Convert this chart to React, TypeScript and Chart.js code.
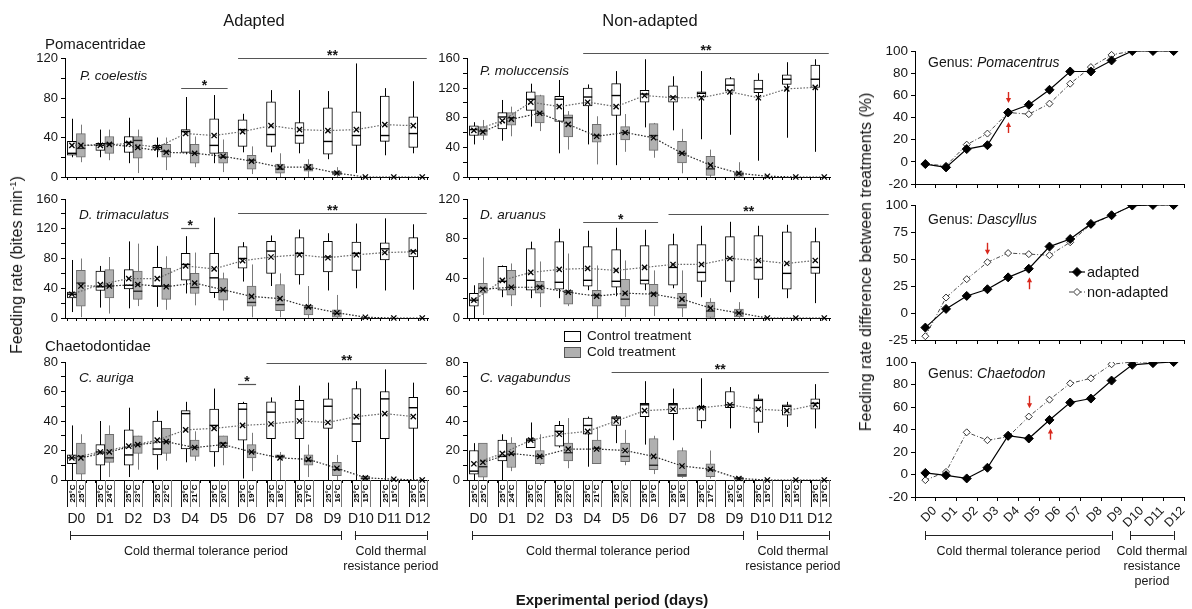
import React, { useEffect, useRef } from 'react';
import { Chart, registerables } from 'chart.js';

Chart.register(...registerables);

const W = 1192;
const H = 609;
const FONT = "'Liberation Sans', Arial, Helvetica, sans-serif";
const INK = '#161616';
const RED = '#d8281c';

Chart.defaults.font.family = FONT;
Chart.defaults.color = INK;

// ---------- categories ----------
const days = ['D0', 'D1', 'D2', 'D3', 'D4', 'D5', 'D6', 'D7', 'D8', 'D9', 'D10', 'D11', 'D12'];
const controlTemps = ['25°C', '25°C', '25°C', '25°C', '25°C', '25°C', '25°C', '25°C', '25°C', '25°C', '25°C', '25°C', '25°C'];
const coldTemps = ['25°C', '24°C', '23°C', '22°C', '21°C', '20°C', '19°C', '18°C', '17°C', '16°C', '15°C', '15°C', '15°C'];

// ---------- P. coelestis (adapted) ----------
const pcoCtrlMin = [20, 20, 14, 20, 23, 14, 25, 25, 24, 18, 4, 22, 24];
const pcoCtrlQ1 = [22, 27, 25, 28, 25, 24, 31, 31, 34, 23, 32, 36, 30];
const pcoCtrlMed = [24, 32, 35, 30, 46, 32, 48, 43, 42, 36, 42, 42, 44];
const pcoCtrlQ3 = [36, 34, 41, 32, 48, 59, 58, 76, 55, 70, 66, 82, 61];
const pcoCtrlMax = [59, 48, 60, 40, 81, 83, 64, 88, 88, 87, 115, 90, 97];
const pcoCtrlMean = [32, 32, 34, 30, 44, 42, 46, 52, 48, 47, 48, 53, 52];
const pcoColdMin = [15, 17, 4, 7, 10, 5, 3, 0, 0, 0, 0, 0, 0];
const pcoColdQ1 = [20, 24, 19, 20, 14, 14, 8, 4, 6, 2, 0, 0, 0];
const pcoColdMed = [29, 34, 37, 26, 24, 20, 17, 8, 8, 4, 0, 0, 0];
const pcoColdQ3 = [44, 41, 41, 33, 33, 25, 22, 13, 13, 6, 0, 0, 0];
const pcoColdMax = [53, 48, 48, 40, 41, 38, 31, 24, 18, 10, 0, 0, 0];
const pcoColdMean = [32, 33, 30, 25, 24, 21, 16, 10, 10, 4, 0, 0, 0];

// ---------- D. trimaculatus (adapted) ----------
const dtrCtrlMin = [8, 14, 13, 15, 33, 27, 49, 43, 45, 37, 40, 37, 38];
const dtrCtrlQ1 = [27, 37, 39, 42, 51, 34, 67, 60, 58, 62, 64, 78, 82];
const dtrCtrlMed = [32, 42, 44, 43, 72, 54, 80, 90, 87, 82, 87, 93, 90];
const dtrCtrlQ3 = [35, 63, 65, 68, 87, 87, 96, 103, 108, 103, 102, 101, 108];
const dtrCtrlMax = [78, 70, 103, 97, 110, 135, 102, 111, 119, 114, 127, 134, 126];
const dtrCtrlMean = [32, 45, 53, 53, 70, 66, 77, 82, 85, 81, 85, 88, 89];
const dtrColdMin = [1, 6, 16, 11, 17, 10, 1, 1, 0, 0, 0, 0, 0];
const dtrColdQ1 = [16, 27, 25, 25, 33, 24, 16, 10, 4, 1, 0, 0, 0];
const dtrColdMed = [47, 43, 36, 43, 41, 37, 21, 18, 14, 6, 0, 0, 0];
const dtrColdQ3 = [64, 65, 63, 67, 60, 53, 43, 45, 17, 11, 1, 0, 0];
const dtrColdMax = [80, 82, 100, 83, 88, 61, 72, 60, 43, 31, 2, 0, 0];
const dtrColdMean = [43, 43, 45, 42, 47, 38, 29, 26, 15, 7, 1, 0, 0];

// ---------- C. auriga (adapted) ----------
const cauCtrlMin = [0, 0, 2, 7, 12, 9, 1, 0, 0, 0, 0, 0, 0];
const cauCtrlQ1 = [11, 10, 10, 17, 21, 19, 27, 28, 28, 35, 26, 28, 35];
const cauCtrlMed = [15, 19, 17, 21, 45, 37, 48, 46, 48, 50, 38, 55, 49];
const cauCtrlQ3 = [17, 24, 34, 40, 47, 48, 52, 53, 54, 55, 62, 60, 56];
const cauCtrlMax = [37, 40, 49, 47, 53, 62, 53, 56, 64, 66, 67, 75, 66];
const cauCtrlMean = [15, 19, 23, 27, 34, 35, 37, 38, 40, 39, 43, 45, 43];
const cauColdMin = [0, 2, 7, 13, 13, 10, 6, 0, 2, 0, 0, 0, 0];
const cauColdQ1 = [4, 12, 18, 18, 16, 22, 15, 15, 10, 3, 0.5, 0, 0];
const cauColdMed = [16, 15, 24, 26, 22, 25, 19, 16, 13, 7, 1, 0, 0];
const cauColdQ3 = [25, 31, 30, 35, 27, 30, 24, 17, 17, 12, 2.5, 0, 0];
const cauColdMax = [31, 37, 30, 35, 33, 30, 32, 19, 24, 17, 3, 1, 0];
const cauColdMean = [15, 19, 24, 26, 22, 24, 19, 15, 14, 8, 1.5, 0.5, 0];

// ---------- P. moluccensis (non-adapted) ----------
const pmoCtrlMin = [44, 49, 68, 32, 44, 16, 67, 63, 51, 57, 22, 53, 34];
const pmoCtrlQ1 = [56, 65, 90, 75, 96, 83, 101, 101, 108, 116, 114, 125, 121];
const pmoCtrlMed = [64, 81, 105, 105, 108, 110, 112, 108, 113, 124, 119, 132, 132];
const pmoCtrlQ3 = [69, 87, 115, 109, 120, 126, 117, 123, 115, 133, 131, 138, 151];
const pmoCtrlMax = [74, 104, 126, 131, 125, 143, 159, 136, 143, 135, 140, 155, 159];
const pmoCtrlMean = [63, 76, 101, 95, 101, 95, 110, 107, 107, 115, 107, 119, 121];
const pmoColdMin = [50, 55, 62, 37, 17, 34, 26, 5, 0, 0, 0, 0, 0];
const pmoColdQ1 = [56, 70, 73, 54, 47, 50, 36, 19, 2, 0, 0, 0, 0];
const pmoColdMed = [62, 80, 86, 80, 56, 60, 56, 32, 11, 4, 0, 0, 0];
const pmoColdQ3 = [68, 87, 110, 84, 71, 68, 72, 48, 28, 7, 0, 0, 0];
const pmoColdMax = [77, 95, 111, 89, 82, 85, 73, 65, 37, 20, 2, 0, 0];
const pmoColdMean = [61, 78, 86, 71, 55, 60, 53, 32, 16, 5, 1, 0, 0];

// ---------- D. aruanus (non-adapted) ----------
const darCtrlMin = [0, 21, 20, 20, 28, 22, 28, 30, 21, 26, 20, 20, 15];
const darCtrlQ1 = [12, 28, 28, 29, 32, 31, 34, 33, 37, 37, 39, 29, 45];
const darCtrlMed = [18, 37, 38, 36, 38, 37, 38, 51, 46, 60, 51, 45, 51];
const darCtrlQ3 = [25, 52, 70, 77, 72, 69, 73, 74, 74, 82, 83, 87, 77];
const darCtrlMax = [33, 53, 77, 90, 88, 91, 89, 85, 93, 97, 93, 94, 91];
const darCtrlMean = [18, 38, 46, 49, 50, 48, 51, 54, 54, 60, 58, 55, 58];
const darColdMin = [3, 12, 11, 12, 0, 1, 2, 1, 0, 0, 0, 0, 0];
const darColdQ1 = [25, 23, 25, 14, 12, 12, 12, 10, 0, 1, 0, 0, 0];
const darColdMed = [30, 31, 32, 26, 23, 19, 25, 13, 7, 5, 0, 0, 0];
const darColdQ3 = [35, 48, 37, 28, 28, 39, 34, 25, 16, 9, 0, 0, 0];
const darColdMax = [61, 55, 57, 65, 53, 58, 48, 48, 20, 16, 0, 0, 0];
const darColdMean = [29, 31, 31, 26, 22, 25, 24, 19, 10, 5, 0, 0, 0];

// ---------- C. vagabundus (non-adapted) ----------
const cvaCtrlMin = [0, 0, 22, 22, 9, 25, 24, 27, 35, 35, 32, 36, 35];
const cvaCtrlQ1 = [4, 13, 22, 23, 31, 37, 43, 45, 40, 49, 39, 44, 48];
const cvaCtrlMed = [6, 16, 27, 33, 37, 42, 51, 51, 49, 51, 54, 50, 52];
const cvaCtrlQ3 = [20, 27, 28, 37, 42, 43, 52, 52, 50, 60, 55, 51, 55];
const cvaCtrlMax = [25, 31, 39, 40, 43, 44, 67, 62, 69, 63, 58, 53, 65];
const cvaCtrlMean = [11, 18, 27, 31, 33, 40, 47, 48, 49, 51, 48, 47, 51];
const cvaColdMin = [0, 6, 10, 8, 11, 10, 4, 1.5, 1, 0, 0, 0, 0];
const cvaColdQ1 = [2, 8.5, 11, 13, 11, 12.5, 7, 2.3, 2.3, 0, 0, 0, 0];
const cvaColdMed = [9, 17.5, 16, 18.5, 21.5, 16, 10, 3.4, 6.8, 1, 0, 0, 0];
const cvaColdQ3 = [25, 25, 20, 25, 27, 25, 28, 20, 11, 1.8, 0, 0, 0];
const cvaColdMax = [25, 29, 31, 42, 36, 34, 30, 22, 20, 2.3, 0, 0, 0];
const cvaColdMean = [12, 18, 16, 21, 21, 20, 16, 9.5, 7.3, 1, 0, 0, 0];

// ---------- significance bars (day indices, value level) ----------
const pcoSig = [{ from: 4, to: 5, at: 90, label: '*' }, { from: 6, to: 12, at: 121, label: '**' }];
const dtrSig = [{ from: 4, to: 4, at: 121, label: '*' }, { from: 6, to: 12, at: 141, label: '**' }];
const cauSig = [{ from: 6, to: 6, at: 65, label: '*' }, { from: 7, to: 12, at: 79.5, label: '**' }];
const pmoSig = [{ from: 4, to: 12, at: 168, label: '**' }];
const darSig = [{ from: 4, to: 6, at: 97, label: '*' }, { from: 7, to: 12, at: 105, label: '**' }];
const cvaSig = [{ from: 5, to: 12, at: 73, label: '**' }];

// ---------- right panels: feeding-rate difference (%) ----------
const pomAdapted = [-2, -5, 11.5, 15, 44.5, 51.5, 65, 81.5, 81.5, 91.5, 100, 100, 100];
const pomNonAdapted = [-2, -3.5, 15.5, 25.5, 44.5, 43, 52.5, 70.5, 85.5, 96.5, 100, 100, 100];
const dasAdapted = [-13.5, 3.8, 15.8, 22, 33, 41, 61.5, 68.5, 82.5, 90.5, 99.5, 100, 100];
const dasNonAdapted = [-21.5, 14.3, 31.3, 47, 55.5, 54.5, 53.5, 65.5, 82, 90.5, 99.5, 100, 100];
const chaAdapted = [1.4, -0.7, -3.5, 6, 34.5, 32, 48.5, 64, 67.5, 83.5, 97.5, 99, 100];
const chaNonAdapted = [-5, 2.3, 37.5, 30.5, 33.5, 51.5, 66.5, 81, 85.5, 98, 100, 100, 100];

// red arrows (day index, value from -> to)
const pomArrows = [{ day: 4, from: 63, to: 53 }, { day: 4, from: 26, to: 36 }];
const dasArrows = [{ day: 3, from: 65, to: 54 }, { day: 5, from: 22, to: 33 }];
const chaArrows = [{ day: 5, from: 70, to: 59 }, { day: 6, from: 31, to: 41 }];

const boxPeriods = [
  { lines: ['Cold thermal tolerance period'], from: 0, to: 9 },
  { lines: ['Cold thermal', 'resistance period'], from: 10, to: 12 },
];
const linePeriods = [
  { lines: ['Cold thermal tolerance period'], from: 0, to: 9 },
  { lines: ['Cold thermal', 'resistance', 'period'], from: 10, to: 12 },
];

// ---------- types ----------
type Stats = { min: number[]; q1: number[]; med: number[]; q3: number[]; max: number[]; mean: number[] };
type Area = { left: number; right: number; top: number; bottom: number };
type BoxPanel = {
  ctrl: Stats; cold: Stats; yMax: number; minor: number; major: number; area: Area;
  sig: { from: number; to: number; at: number; label: string }[]; bottom: boolean;
};

const YW = 44;

const boxPanels: BoxPanel[] = [
  {
    ctrl: { min: pcoCtrlMin, q1: pcoCtrlQ1, med: pcoCtrlMed, q3: pcoCtrlQ3, max: pcoCtrlMax, mean: pcoCtrlMean },
    cold: { min: pcoColdMin, q1: pcoColdQ1, med: pcoColdMed, q3: pcoColdQ3, max: pcoColdMax, mean: pcoColdMean },
    yMax: 120, minor: 20, major: 40, area: { left: 65, right: 428, top: 58.5, bottom: 177 }, sig: pcoSig, bottom: false,
  },
  {
    ctrl: { min: dtrCtrlMin, q1: dtrCtrlQ1, med: dtrCtrlMed, q3: dtrCtrlQ3, max: dtrCtrlMax, mean: dtrCtrlMean },
    cold: { min: dtrColdMin, q1: dtrColdQ1, med: dtrColdMed, q3: dtrColdQ3, max: dtrColdMax, mean: dtrColdMean },
    yMax: 160, minor: 20, major: 40, area: { left: 65, right: 428, top: 199, bottom: 318 }, sig: dtrSig, bottom: false,
  },
  {
    ctrl: { min: cauCtrlMin, q1: cauCtrlQ1, med: cauCtrlMed, q3: cauCtrlQ3, max: cauCtrlMax, mean: cauCtrlMean },
    cold: { min: cauColdMin, q1: cauColdQ1, med: cauColdMed, q3: cauColdQ3, max: cauColdMax, mean: cauColdMean },
    yMax: 80, minor: 10, major: 20, area: { left: 65, right: 428, top: 362, bottom: 480 }, sig: cauSig, bottom: true,
  },
  {
    ctrl: { min: pmoCtrlMin, q1: pmoCtrlQ1, med: pmoCtrlMed, q3: pmoCtrlQ3, max: pmoCtrlMax, mean: pmoCtrlMean },
    cold: { min: pmoColdMin, q1: pmoColdQ1, med: pmoColdMed, q3: pmoColdQ3, max: pmoColdMax, mean: pmoColdMean },
    yMax: 160, minor: 20, major: 40, area: { left: 467, right: 830, top: 58.5, bottom: 177 }, sig: pmoSig, bottom: false,
  },
  {
    ctrl: { min: darCtrlMin, q1: darCtrlQ1, med: darCtrlMed, q3: darCtrlQ3, max: darCtrlMax, mean: darCtrlMean },
    cold: { min: darColdMin, q1: darColdQ1, med: darColdMed, q3: darColdQ3, max: darColdMax, mean: darColdMean },
    yMax: 120, minor: 20, major: 40, area: { left: 467, right: 830, top: 199, bottom: 318 }, sig: darSig, bottom: false,
  },
  {
    ctrl: { min: cvaCtrlMin, q1: cvaCtrlQ1, med: cvaCtrlMed, q3: cvaCtrlQ3, max: cvaCtrlMax, mean: cvaCtrlMean },
    cold: { min: cvaColdMin, q1: cvaColdQ1, med: cvaColdMed, q3: cvaColdQ3, max: cvaColdMax, mean: cvaColdMean },
    yMax: 80, minor: 10, major: 20, area: { left: 467, right: 830, top: 362, bottom: 480 }, sig: cvaSig, bottom: true,
  },
];

type LinePanel = {
  adapted: number[]; non: number[]; yMin: number; yMax: number; step: number; area: Area;
  arrows: { day: number; from: number; to: number }[]; legend: boolean; bottom: boolean;
};

const linePanels: LinePanel[] = [
  { adapted: pomAdapted, non: pomNonAdapted, yMin: -20, yMax: 100, step: 20, area: { left: 915, right: 1184, top: 51, bottom: 184 }, arrows: pomArrows, legend: false, bottom: false },
  { adapted: dasAdapted, non: dasNonAdapted, yMin: -25, yMax: 100, step: 25, area: { left: 915, right: 1184, top: 205, bottom: 340 }, arrows: dasArrows, legend: true, bottom: false },
  { adapted: chaAdapted, non: chaNonAdapted, yMin: -20, yMax: 100, step: 20, area: { left: 915, right: 1184, top: 362, bottom: 497 }, arrows: chaArrows, legend: false, bottom: true },
];

// ---------- helpers ----------
function drawBracket(ctx: CanvasRenderingContext2D, x1: number, x2: number, y: number, lines: string[], lineGap: number, firstOffset: number) {
  ctx.strokeStyle = '#222';
  ctx.lineWidth = 1;
  ctx.beginPath();
  ctx.moveTo(x1, y + 0.5);
  ctx.lineTo(x2, y + 0.5);
  ctx.moveTo(Math.round(x1) + 0.5, y - 4);
  ctx.lineTo(Math.round(x1) + 0.5, y + 5);
  ctx.moveTo(Math.round(x2) + 0.5, y - 4);
  ctx.lineTo(Math.round(x2) + 0.5, y + 5);
  ctx.stroke();
  ctx.fillStyle = INK;
  ctx.font = `12.5px ${FONT}`;
  ctx.textAlign = 'center';
  ctx.textBaseline = 'middle';
  lines.forEach((t, k) => ctx.fillText(t, (x1 + x2) / 2, y + firstOffset + k * lineGap));
}

function makeBoxPlugin(panel: BoxPanel) {
  const HALF = 4.5;
  const sets = [panel.ctrl, panel.cold];
  const barX = (chart: any, di: number, i: number) => {
    const el = chart.getDatasetMeta(di).data[i];
    if (el && Number.isFinite(el.x)) return el.x;
    return chart.scales.x.getPixelForValue(i) + (di === 0 ? -HALF : HALF);
  };
  return {
    id: 'boxExtras',
    beforeDatasetsDraw(chart: any) {
      const ctx = chart.ctx;
      const ys = chart.scales.y;
      ctx.save();
      sets.forEach((st, di) => {
        ctx.strokeStyle = di === 0 ? '#000' : '#7a7a7a';
        ctx.lineWidth = 1;
        st.min.forEach((mn, i) => {
          const mx = st.max[i];
          if (mx <= mn) return;
          const x = Math.round(barX(chart, di, i)) + 0.5;
          ctx.beginPath();
          ctx.moveTo(x, ys.getPixelForValue(mn));
          ctx.lineTo(x, ys.getPixelForValue(mx));
          ctx.stroke();
        });
      });
      ctx.restore();
    },
    afterDatasetsDraw(chart: any) {
      const ctx = chart.ctx;
      const xs = chart.scales.x;
      const ys = chart.scales.y;
      const ca = chart.chartArea;
      ctx.save();
      // medians
      sets.forEach((st, di) => {
        ctx.strokeStyle = di === 0 ? '#000' : '#262626';
        ctx.lineWidth = 1.4;
        st.med.forEach((m, i) => {
          if (st.q3[i] <= st.q1[i]) return;
          const x = barX(chart, di, i);
          const y = ys.getPixelForValue(m);
          ctx.beginPath();
          ctx.moveTo(x - HALF, y);
          ctx.lineTo(x + HALF, y);
          ctx.stroke();
        });
      });
      // mean lines (dotted)
      sets.forEach((st, di) => {
        ctx.setLineDash([1.6, 1.6]);
        ctx.lineWidth = 1.2;
        ctx.strokeStyle = di === 0 ? '#6b6b6b' : '#2c2c2c';
        ctx.beginPath();
        st.mean.forEach((m, i) => {
          const x = barX(chart, di, i);
          const y = ys.getPixelForValue(m);
          if (i === 0) ctx.moveTo(x, y);
          else ctx.lineTo(x, y);
        });
        ctx.stroke();
      });
      ctx.setLineDash([]);
      // mean markers (x)
      ctx.strokeStyle = '#000';
      ctx.lineWidth = 1.3;
      sets.forEach((st, di) => {
        st.mean.forEach((m, i) => {
          const x = barX(chart, di, i);
          const y = ys.getPixelForValue(m);
          const s = 2.6;
          ctx.beginPath();
          ctx.moveTo(x - s, y - s);
          ctx.lineTo(x + s, y + s);
          ctx.moveTo(x + s, y - s);
          ctx.lineTo(x - s, y + s);
          ctx.stroke();
        });
      });
      // minor ticks on the day axis
      ctx.strokeStyle = '#000';
      ctx.lineWidth = 1;
      for (let k = -1; k <= 38; k++) {
        const v = k / 3;
        if (v < xs.min || v > xs.max) continue;
        const px = Math.round(xs.getPixelForValue(v)) + 0.5;
        ctx.beginPath();
        ctx.moveTo(px, ca.bottom);
        ctx.lineTo(px, ca.bottom + 3);
        ctx.stroke();
      }
      // significance bars
      panel.sig.forEach((s) => {
        const x1 = barX(chart, 0, s.from) - HALF;
        const x2 = barX(chart, 1, s.to) + HALF;
        const y = Math.round(ys.getPixelForValue(s.at)) + 0.5;
        ctx.strokeStyle = '#555';
        ctx.lineWidth = 1.2;
        ctx.beginPath();
        ctx.moveTo(x1, y);
        ctx.lineTo(x2, y);
        ctx.stroke();
        ctx.fillStyle = INK;
        ctx.font = `bold 14px ${FONT}`;
        ctx.textAlign = 'center';
        ctx.textBaseline = 'alphabetic';
        ctx.fillText(s.label, (x1 + x2) / 2, y + 1);
      });
      // temperatures, day labels, periods
      if (panel.bottom) {
        const top = ca.bottom;
        const bot = ca.bottom + 27;
        [controlTemps, coldTemps].forEach((temps, di) => {
          days.forEach((_, i) => {
            const x = barX(chart, di, i);
            ctx.strokeStyle = di === 0 ? '#111' : '#777';
            ctx.lineWidth = 1;
            ctx.beginPath();
            ctx.moveTo(Math.round(x - HALF) + 0.5, top);
            ctx.lineTo(Math.round(x - HALF) + 0.5, bot);
            ctx.moveTo(Math.round(x + HALF) + 0.5, top);
            ctx.lineTo(Math.round(x + HALF) + 0.5, bot);
            ctx.stroke();
            ctx.save();
            ctx.translate(x + 0.5, (top + bot) / 2);
            ctx.rotate(-Math.PI / 2);
            ctx.fillStyle = '#000';
            ctx.font = `bold 8px ${FONT}`;
            ctx.textAlign = 'center';
            ctx.textBaseline = 'middle';
            ctx.fillText(temps[i], 0, 0);
            ctx.restore();
          });
        });
        ctx.fillStyle = INK;
        ctx.font = `14px ${FONT}`;
        ctx.textAlign = 'center';
        ctx.textBaseline = 'middle';
        days.forEach((d, i) => ctx.fillText(d, xs.getPixelForValue(i), ca.bottom + 39));
        boxPeriods.forEach((p) => {
          drawBracket(ctx, xs.getPixelForValue(p.from) - 6, xs.getPixelForValue(p.to) + 9, ca.bottom + 55, p.lines, 15, 17);
        });
      }
      ctx.restore();
    },
  };
}

function boxChartConfig(panel: BoxPanel): any {
  const a = panel.area;
  const ds = (st: Stats, di: number) => ({
    label: di === 0 ? 'Control treatment' : 'Cold treatment',
    data: days.map((_, i) => ({ x: i, y: st.q3[i] > st.q1[i] ? [st.q1[i], st.q3[i]] : null })),
    backgroundColor: di === 0 ? '#ffffff' : '#b0b0b0',
    borderColor: di === 0 ? '#000000' : '#6d6d6d',
    borderWidth: 1,
    borderSkipped: false,
    barThickness: 9,
  });
  return {
    type: 'bar',
    data: { datasets: [ds(panel.ctrl, 0), ds(panel.cold, 1)] },
    options: {
      responsive: false,
      animation: false,
      events: [],
      layout: { autoPadding: false, padding: { left: a.left - YW, right: W - a.right, top: a.top, bottom: H - a.bottom } },
      plugins: { legend: { display: false }, tooltip: { enabled: false } },
      scales: {
        x: {
          type: 'linear', min: -0.4, max: 12.36, offset: false,
          grid: { display: false }, ticks: { display: false },
          border: { display: true, color: '#000', width: 1 },
          afterFit: (s: any) => { s.height = 0; },
        },
        y: {
          type: 'linear', min: 0, max: panel.yMax,
          ticks: {
            stepSize: panel.minor, autoSkip: false, color: INK, padding: 3,
            font: { family: FONT, size: 13 },
            callback: (v: any) => (Math.abs(Number(v) % panel.major) < 1e-6 ? String(v) : ''),
          },
          grid: { display: true, drawOnChartArea: false, drawTicks: true, tickLength: 4, color: '#000', lineWidth: 1 },
          border: { display: true, color: '#000', width: 1 },
          afterFit: (s: any) => { s.width = YW; },
        },
      },
    },
    plugins: [makeBoxPlugin(panel)],
  };
}

function diamond(ctx: CanvasRenderingContext2D, x: number, y: number, r: number, filled: boolean) {
  ctx.beginPath();
  ctx.moveTo(x, y - r);
  ctx.lineTo(x + r, y);
  ctx.lineTo(x, y + r);
  ctx.lineTo(x - r, y);
  ctx.closePath();
  ctx.fillStyle = filled ? '#000' : '#fff';
  ctx.fill();
  ctx.strokeStyle = filled ? '#000' : '#333';
  ctx.lineWidth = 1;
  ctx.stroke();
}

function makeLinePlugin(panel: LinePanel) {
  return {
    id: 'lineExtras',
    afterDatasetsDraw(chart: any) {
      const ctx = chart.ctx;
      const xs = chart.scales.x;
      const ys = chart.scales.y;
      const ca = chart.chartArea;
      ctx.save();
      panel.arrows.forEach((a) => {
        const x = Math.round(xs.getPixelForValue(a.day)) + 0.5;
        const y1 = ys.getPixelForValue(a.from);
        const y2 = ys.getPixelForValue(a.to);
        const dir = Math.sign(y2 - y1);
        ctx.strokeStyle = RED;
        ctx.fillStyle = RED;
        ctx.lineWidth = 1.4;
        ctx.beginPath();
        ctx.moveTo(x, y1);
        ctx.lineTo(x, y2 - dir * 4);
        ctx.stroke();
        ctx.beginPath();
        ctx.moveTo(x - 2.6, y2 - dir * 5);
        ctx.lineTo(x + 2.6, y2 - dir * 5);
        ctx.lineTo(x, y2);
        ctx.closePath();
        ctx.fill();
      });
      if (panel.legend) {
        const lx = ca.right - 115;
        const items = [
          { label: 'adapted', filled: true, dash: [] as number[], y: ca.top + 67 },
          { label: 'non-adapted', filled: false, dash: [4, 2, 1, 2], y: ca.top + 87 },
        ];
        items.forEach((it) => {
          ctx.setLineDash(it.dash);
          ctx.strokeStyle = it.filled ? '#000' : '#444';
          ctx.lineWidth = 1.2;
          ctx.beginPath();
          ctx.moveTo(lx, it.y);
          ctx.lineTo(lx + 16, it.y);
          ctx.stroke();
          ctx.setLineDash([]);
          diamond(ctx, lx + 8, it.y, it.filled ? 4.5 : 3.5, it.filled);
          ctx.fillStyle = INK;
          ctx.font = `14.5px ${FONT}`;
          ctx.textAlign = 'left';
          ctx.textBaseline = 'middle';
          ctx.fillText(it.label, lx + 18, it.y + 0.5);
        });
      }
      if (panel.bottom) {
        // rotated day labels, anchored at the right boundary of each category
        const half = (xs.getPixelForValue(1) - xs.getPixelForValue(0)) / 2;
        ctx.fillStyle = INK;
        ctx.font = `12.5px ${FONT}`;
        ctx.textAlign = 'right';
        ctx.textBaseline = 'middle';
        days.forEach((d, i) => {
          ctx.save();
          ctx.translate(xs.getPixelForValue(i) + half - 1, ca.bottom + 12);
          ctx.rotate(-Math.PI / 4);
          ctx.fillText(d, 0, 0);
          ctx.restore();
        });
        linePeriods.forEach((p, k) => {
          const x1 = xs.getPixelForValue(p.from) + (k === 0 ? 0 : -2);
          const x2 = xs.getPixelForValue(p.to);
          drawBracket(ctx, x1, x2, ca.bottom + 38, p.lines, 15, 17);
        });
      }
      ctx.restore();
    },
  };
}

function lineChartConfig(panel: LinePanel): any {
  const a = panel.area;
  return {
    type: 'line',
    data: {
      labels: days,
      datasets: [
        {
          label: 'adapted', data: panel.adapted, borderColor: '#000', borderWidth: 1.2, tension: 0,
          pointStyle: 'rectRot', pointRadius: 4.5, pointBackgroundColor: '#000', pointBorderColor: '#000', pointBorderWidth: 1,
        },
        {
          label: 'non-adapted', data: panel.non, borderColor: '#4a4a4a', borderWidth: 1, borderDash: [4, 2, 1, 2], tension: 0,
          pointStyle: 'rectRot', pointRadius: 3.5, pointBackgroundColor: '#fff', pointBorderColor: '#333', pointBorderWidth: 1,
        },
      ],
    },
    options: {
      responsive: false,
      animation: false,
      events: [],
      layout: { autoPadding: false, padding: { left: a.left - YW, right: W - a.right, top: a.top, bottom: H - a.bottom } },
      plugins: { legend: { display: false }, tooltip: { enabled: false } },
      scales: {
        x: {
          type: 'category', offset: true,
          grid: { display: true, offset: true, drawOnChartArea: false, drawTicks: true, tickLength: 4, color: '#000' },
          border: { display: true, color: '#000', width: 1 },
          ticks: { display: false },
          afterFit: (s: any) => { s.height = 0; },
        },
        y: {
          type: 'linear', min: panel.yMin, max: panel.yMax,
          ticks: { stepSize: panel.step, autoSkip: false, color: INK, padding: 3, font: { family: FONT, size: 13.5 } },
          grid: { display: true, drawOnChartArea: false, drawTicks: true, tickLength: 4, color: '#000' },
          border: { display: true, color: '#000', width: 1 },
          afterFit: (s: any) => { s.width = YW; },
        },
      },
    },
    plugins: [makeLinePlugin(panel)],
  };
}

function ChartCanvas({ make }: { make: () => any }) {
  const ref = useRef<HTMLCanvasElement>(null);
  useEffect(() => {
    const chart = new Chart(ref.current as HTMLCanvasElement, make());
    return () => chart.destroy();
  }, []);
  return <canvas ref={ref} width={W} height={H} style={{ position: 'absolute', left: 0, top: 0, width: W, height: H }} />;
}

function Txt({ x, y, size, anchor = 'left', rotate = false, weight = 400, italic = false, children }: any) {
  let transform = anchor === 'center' ? 'translate(-50%, -50%)' : 'translate(0, -50%)';
  if (rotate) transform = 'translate(-50%, -50%) rotate(-90deg)';
  return (
    <div
      style={{
        position: 'absolute', left: x, top: y, transform, fontSize: size, fontWeight: weight,
        fontStyle: italic ? 'italic' : 'normal', whiteSpace: 'nowrap', lineHeight: 1, fontFamily: FONT, color: INK,
      }}
    >
      {children}
    </div>
  );
}

export default function App() {
  return (
    <div style={{ position: 'absolute', left: 0, top: 0, width: W, height: H, background: '#fff', overflow: 'hidden' }}>
      {boxPanels.map((p, i) => (
        <ChartCanvas key={'box' + i} make={() => boxChartConfig(p)} />
      ))}
      {linePanels.map((p, i) => (
        <ChartCanvas key={'line' + i} make={() => lineChartConfig(p)} />
      ))}

      <Txt x={254} y={20} size={16.5} anchor="center">Adapted</Txt>
      <Txt x={650} y={20} size={16.5} anchor="center">Non-adapted</Txt>
      <Txt x={45} y={43} size={15}>Pomacentridae</Txt>
      <Txt x={45} y={345} size={15}>Chaetodontidae</Txt>

      <Txt x={80} y={76} size={13.5} italic>P. coelestis</Txt>
      <Txt x={79} y={215} size={13.5} italic>D. trimaculatus</Txt>
      <Txt x={79} y={378} size={13.5} italic>C. auriga</Txt>
      <Txt x={480} y={71} size={13.5} italic>P. moluccensis</Txt>
      <Txt x={480} y={215} size={13.5} italic>D. aruanus</Txt>
      <Txt x={480} y={378} size={13.5} italic>C. vagabundus</Txt>

      <Txt x={17} y={265} size={16} rotate>
        Feeding rate (bites min<sup style={{ fontSize: '0.62em', verticalAlign: 'super', lineHeight: 0 }}>-1</sup>)
      </Txt>
      <Txt x={866} y={262} size={16} rotate>Feeding rate difference between treatments (%)</Txt>

      <Txt x={928} y={62} size={14}>Genus: <i>Pomacentrus</i></Txt>
      <Txt x={928} y={219} size={14}>Genus: <i>Dascyllus</i></Txt>
      <Txt x={928} y={373} size={14}>Genus: <i>Chaetodon</i></Txt>

      <div style={{ position: 'absolute', left: 564, top: 331, width: 15, height: 9, border: '1px solid #000', background: '#fff' }} />
      <Txt x={587} y={336} size={13.5}>Control treatment</Txt>
      <div style={{ position: 'absolute', left: 564, top: 347, width: 15, height: 9, border: '1px solid #555', background: '#b0b0b0' }} />
      <Txt x={587} y={352} size={13.5}>Cold treatment</Txt>

      <Txt x={612} y={599} size={15} weight={700} anchor="center">Experimental period (days)</Txt>
    </div>
  );
}
